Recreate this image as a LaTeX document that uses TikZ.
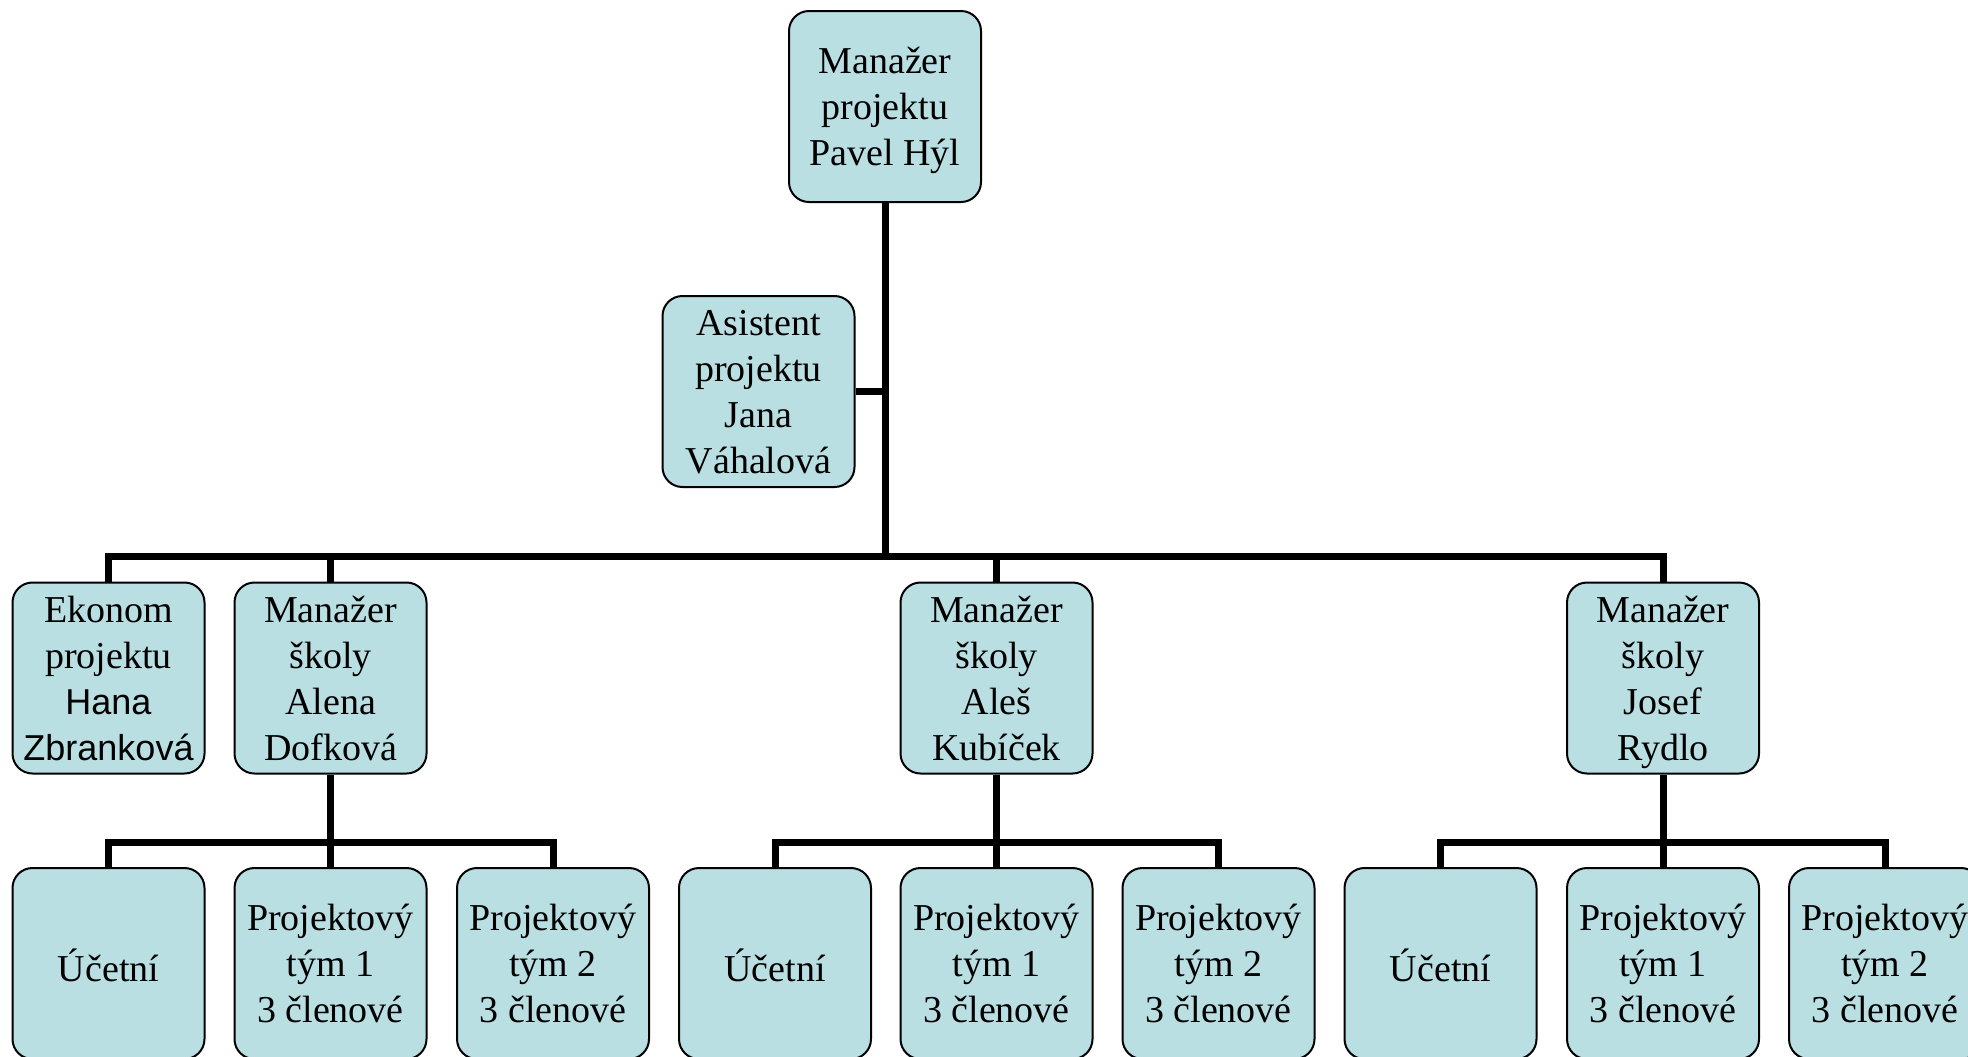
\documentclass[tikz,border=0pt]{standalone}
\usepackage{fontspec}
\setmainfont{Liberation Serif}
\newfontfamily\arialf{Liberation Sans}
\definecolor{boxfill}{RGB}{185,223,227}
\tikzset{
  basebox/.style={draw=black, line width=1pt, fill=boxfill, rounded corners=10pt,
    minimum width=96pt, minimum height=95.5pt, inner sep=0pt, align=center,
    font=\fontsize{19}{23}\selectfont},
  box/.style={basebox, text depth=-2.6pt},
  onebox/.style={basebox, text height=20.6pt, text depth=2.4pt},
  conn/.style={draw=black, line width=3.5pt, line join=miter}
}
\begin{document}
\begin{tikzpicture}[x=0.5pt,y=-0.5pt]
\useasboundingbox (0,0) rectangle (1968,1056);
\clip (0,0) rectangle (1968,1056);
% top
\node[box] (top) at (885,106.5) {Manažer\\projektu\\Pavel Hýl};
\node[box] (asist) at (758.5,391.5) {Asistent\\projektu\\Jana\\Váhalová};
% middle row
\node[box] (ekon) at (108.5,678) {Ekonom\\projektu\\{\arialf\fontsize{18}{23}\selectfont Hana}\\{\arialf\fontsize{18}{23}\selectfont Zbranková}};
\node[box] (alena) at (330.5,678) {Manažer\\školy\\Alena\\Dofková};
\node[box] (ales) at (996.5,678) {Manažer\\školy\\Aleš\\Kubíček};
\node[box] (josef) at (1663,678) {Manažer\\školy\\Josef\\Rydlo};
% bottom row
\node[onebox] (u1) at (108.5,963.5) {Účetní};
\node[box] (t11) at (330.5,963.5) {Projektový\\tým 1\\3 členové};
\node[box] (t12) at (553,963.5) {Projektový\\tým 2\\3 členové};
\node[onebox] (u2) at (775,963.5) {Účetní};
\node[box] (t21) at (996.5,963.5) {Projektový\\tým 1\\3 členové};
\node[box] (t22) at (1218.5,963.5) {Projektový\\tým 2\\3 členové};
\node[onebox] (u3) at (1440.5,963.5) {Účetní};
\node[box] (t31) at (1663,963.5) {Projektový\\tým 1\\3 členové};
\node[box] (t32) at (1885,963.5) {Projektový\\tým 2\\3 členové};
% bar levels
\coordinate (barM) at (0,556);
\coordinate (barB) at (0,842);
% connectors top level
\draw[conn] (top.south) -- (top.south |- barM);
\draw[conn] (asist.east) -- (asist.east -| top.south);
\draw[conn] (ekon.north) -- (ekon.north |- barM) -- (josef.north |- barM) -- (josef.north);
\draw[conn] (alena.north) -- (alena.north |- barM);
\draw[conn] (ales.north) -- (ales.north |- barM);
% group 1
\draw[conn] (alena.south) -- (alena.south |- barB);
\draw[conn] (u1.north) -- (u1.north |- barB) -- (t12.north |- barB) -- (t12.north);
\draw[conn] (t11.north) -- (t11.north |- barB);
% group 2
\draw[conn] (ales.south) -- (ales.south |- barB);
\draw[conn] (u2.north) -- (u2.north |- barB) -- (t22.north |- barB) -- (t22.north);
\draw[conn] (t21.north) -- (t21.north |- barB);
% group 3
\draw[conn] (josef.south) -- (josef.south |- barB);
\draw[conn] (u3.north) -- (u3.north |- barB) -- (t32.north |- barB) -- (t32.north);
\draw[conn] (t31.north) -- (t31.north |- barB);
\end{tikzpicture}
\end{document}
